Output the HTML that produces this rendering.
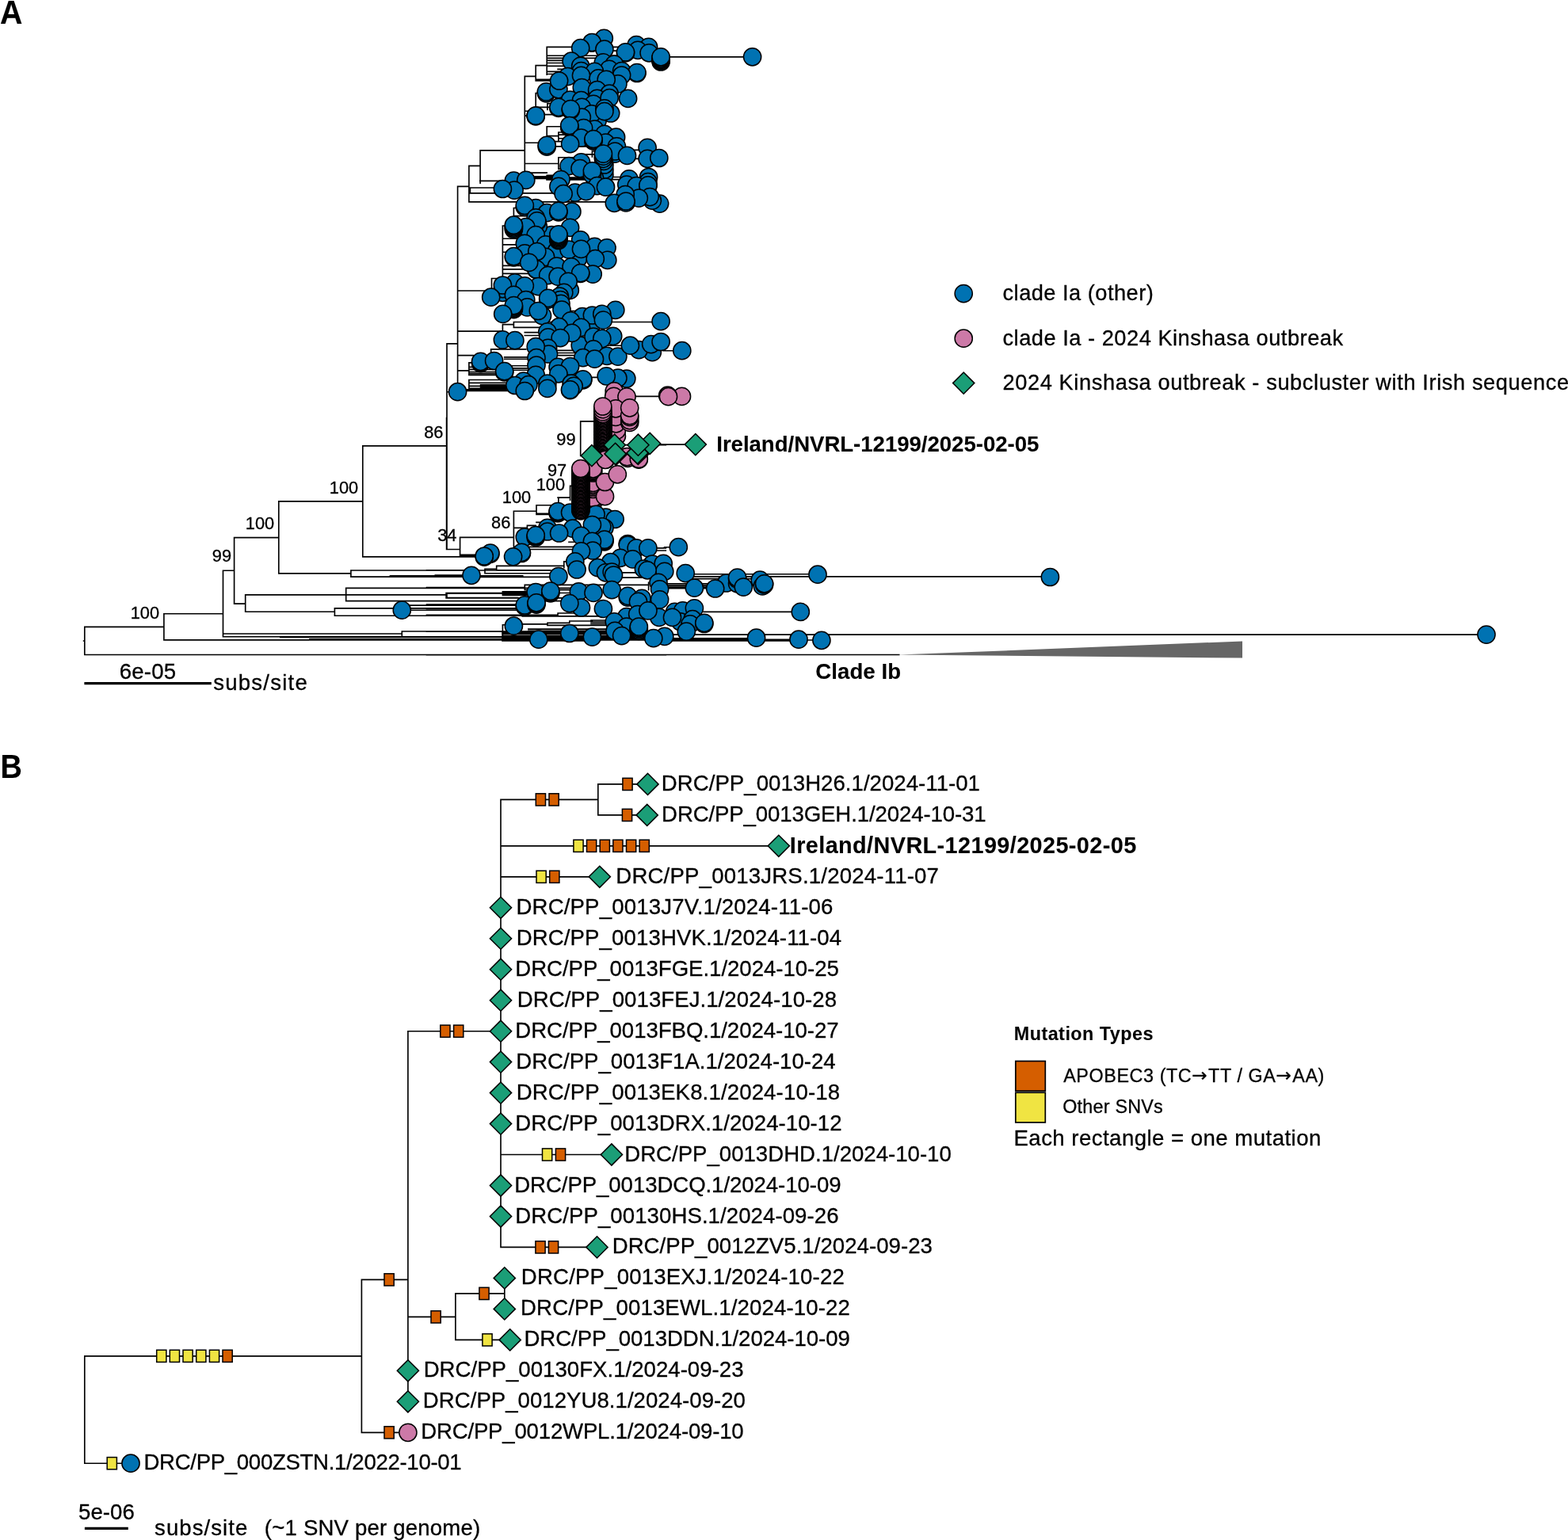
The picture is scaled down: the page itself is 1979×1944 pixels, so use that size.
<!DOCTYPE html>
<html lang="en"><head><meta charset="utf-8"><title>Phylogenetic tree</title>
<style>html,body{margin:0;padding:0;background:#fff}body{width:1979px;height:1944px;overflow:hidden}svg{display:block}text{white-space:pre}</style>
</head><body>
<svg width="1979" height="1944" viewBox="0 0 1979 1944">
<rect width="1979" height="1944" fill="#fff"/>
<g id="treeA">
<path d="M106.8 791.3V826.5M106.8 826.5H1134.7M106.8 791.3H206.9M206.9 774.7V807.9M206.9 774.7H281.5M206.9 807.9H833M390.9 806.9H833M281.5 720.2V803.7M281.5 720.2H295.6M281.5 800H507.3M281.5 803.7H684.4M507.3 797V802.4M507.3 797H684.4M353.8 804.4H684.4M295.6 678.6V762.1M295.6 678.6H351.8M295.6 762.1H309.7M309.7 750.9V772.2M309.7 750.9H563.1M309.7 772.2H422.4M436.7 742.3V758.6M436.7 742.3H734M436.7 758.6H734M563.1 748.5V754.9M563.1 748.5H734M563.1 754.9H734M422.4 767.8V777.2M422.4 767.8H684.4M422.4 777.2H684.4M516 764.1H684.4M516 770.2H684.4M351.8 632.8V723.9M351.8 632.8H457.8M351.8 723.9H442.9M442.9 720V728.1M442.9 720H659.7M442.9 728.1H659.7M492.5 726.9H659.7M548.2 727.4H659.7M457.8 562.9V702.9M457.8 562.9H563.6M457.8 702.9H570.5M563.6 527.5V693.5M563.6 693.5H570.5M605.8 228.3H634.2M591.9 209.3V231.2M591.9 209.3H606.1M606.1 189.8V231.2M606.1 189.8H662.3M662.3 96.3V218.1M662.3 96.3H676.2M676.2 82.6V102M676.2 82.6H690.2M690.2 59.4V94.2M690.2 59.4H733.5M690.2 70.2H721.1M690.2 73.3H756.7M690.2 76.4H721.1M690.2 79.5H733.5M690.2 83.4H733.5M704.1 87.3H733.5M690.2 90.4H716.5M690.2 93.5H716.5M676.2 102H705.6M676.2 100.4H694.8M662.3 140.2H676.2M676.2 117.5V135.3M676.2 117.5H689.4M676.2 135.3H704.9M690.9 130.6V138.4M690.9 130.6H704.9M662.3 146.1H676.2M687.1 144.6H710.3M662.3 180.2H690.2M690.2 159.7V171.6M690.2 159.7H718.8M690.2 171.6H704.1M704.9 167V178.6M704.9 167H718.8M704.9 170.1H718.8M704.9 174.7H733.5M701 178.6H719.6M701 184.8H749M662.3 206.5H704.9M704.9 198.7V213.4M704.9 198.7H733.5M704.9 213.4H718M662.3 218.1H690.2M673.1 222.7H708M690.2 224.3H708M690.2 221.2H708M732 194.9H761.4M747.4 191V198M747.4 191H776.1M733.5 70.2H789.5M762.9 59.4H803.2M772.2 64.1H789.5M791.5 189.4H817.1M791.5 200.3H817.1M764.5 223.5H793.9M764.5 226.6H818.6M577.6 235.4V431.2M577.6 235.4H591.9M591.9 228.5V254.8M591.9 254.8H764.5M593.4 243.9H701M593.4 237H623.6M593.4 237V243.9M577.6 367H620.5M620.5 351.5V363.1M620.5 351.5H648.4M634.4 285V350.7M634.4 285H648.4M634.4 301.2H662.3M634.4 308.9H662.3M634.4 318.2H648.4M634.4 335.3H666.9M634.4 339.9H666.9M634.4 345.3H666.9M648.4 262.5V273.3M648.4 262.5H662.3M648.4 272.6H676.2M577.6 418.1H634.4M634.4 409.6V431.2M634.4 409.6H648.4M648.4 406.5V413.4M648.4 406.5H834.1M648.4 413.4H705.6M662.3 419.6H690.9M662.3 423.5H690.9M721.1 329.1H751.3M709 392.5H776.8M564 433.9V631.2M564 433.9H577.6M577.6 428.5V482.6M577.6 448.6H597.3M577.6 467.9H591.9M591.9 457.9V473.3M591.9 457.9H606.6M591.9 463.3H626.7M591.9 466.4H626.7M591.9 469.5H626.7M591.9 471.5H626.7M591.9 473.3H626.7M619.7 440.8H663.8M619.7 440.8V448.6M636.7 450.9H666.9M636.7 453.2H666.9M591.9 479.5V493.5M591.9 479.5H639.1M591.9 483.4H639.1M606.6 485.7H639.1M591.9 487.3H639.1M606.6 488.8H639.1M591.9 490.4H639.1M588 491.9H639.1M588 493.5H651.5M564 494.7H577.6M538.5 562.8H564M732.7 531.9V575.5M732.7 531.9H749.8M801.6 500.4H840.3M786.1 561.6H840.3M719.6 613.4V631.2M719.6 613.4H722.7M704.1 628.1H719.6M735.8 476.4H765.2M639.1 467.2H676.2M639.1 464.8H676.2M639.1 461.7H676.2M694.8 445.5H735.8M694.8 448.6H735.8M694.8 442.4H741.2M739.7 436.2H787.7M564 628.5V693.5M564 693.5H580.6M580.6 678.3V702.9M580.6 678.3H648.4M580.6 700.4H611.2M580.6 701.5H611.2M648.4 645.2V690.4M648.4 645.2H677M677 637.7V649.3M677 637.7H704.1M677 649.3H704.1M677 648.3H704.1M704.9 628.5V637.7M648.4 666.4H665.4M665.4 663.3V668.7M665.4 663.3H676.2M665.4 668.7H690.9M677 659.4H691.7M648.4 690.4H733.5M668.5 693.5H733.5M718 684.2H733.5M538.5 702.9H611.2M626.7 714.4H711.8M626.7 714.4V719.8M626.7 719.8H694.8M612 718.2H626.7M612 718.2V723.7M612 723.7H694.8M538.5 719.8H595M549.3 726H595M538.5 727.2H595M606.6 728.3H694.8M711.8 708.9V716.7M711.8 708.9H725.8M538.5 741.5H662.3M662.3 738.4V744.6M662.3 738.4H818.6M662.3 744.6H730.4M564 749.2H634.4M564 749.2V754.6M564 754.6H653M634.4 746.9H666.9M634.4 748.4H666.9M634.4 750H666.9M634.4 751.5H666.9M538.5 758.5H653M538.5 763.1H653M538.5 768.5H653M538.5 776.3H704.1M704.1 774V776.3M704.1 774H733.5M659.2 777.8H761.4M538.5 797.2H634.4M634.4 788.7V806.5M634.4 788.7H639.1M659.2 787.9H690.9M690.9 786.3V789.4M690.9 786.3H718.8M718.8 784V786.3M718.8 784H747.4M690.9 789.4H764.5M666.9 794.1H764.5M666.9 796.4H764.5M634.4 798.7H718.8M634 802.6H834.1M634 804.1H834.1M634 805.7H834.1M634 807.2H834.1M634 808.8H747.4M538.5 826.6H840.3M817.9 691.9H840.3M776.8 695H840.3M786.1 722.9H840.3M786.1 729.1H840.3M818.6 735.3V744.6M835.4 71.8H949.6M837.3 442.7H860.8M801.7 500.4H843.5M820.2 561.1H877.8M838.5 690.7H856.3M875.6 724.7H1032M875.6 727.8H1326.1M875.6 730.6H959.2M838.5 736.8H917.4M838.5 739.1H902.7M838.5 741.1H902.7M838.5 742.7H902.7M888 772.4H1010.3M838.5 801.1H1864.8M838.5 805.7H954.6M838.5 807.2H1008M838.5 808.8H1008M1008 808H1036.9M830 801.1H1876M105.6 809H106.8M674 224H738M674 225.5H738M690 227H738M634 797.5H800M634 799H800M634 800.5H800M746 783H772M746 785H772M746 787H772M746 789H772" fill="none" stroke="#000" stroke-width="1.65" stroke-linecap="square"/>
<path d="M1134 826.6L1568 809.4V830.6Z" fill="#666"/>
<g fill="#0072B2" stroke="#000" stroke-width="1.5"><circle cx="507.3" cy="770.2" r="11.1"/><circle cx="733.5" cy="121.3" r="11.1"/><circle cx="696.1" cy="296.7" r="11.1"/><circle cx="729.6" cy="326.4" r="11.1"/><circle cx="684.5" cy="398.6" r="11.1"/><circle cx="719.3" cy="366.4" r="11.1"/><circle cx="746.4" cy="410.2" r="11.1"/><circle cx="732.2" cy="436" r="11.1"/><circle cx="754.1" cy="152.2" r="11.1"/><circle cx="762.3" cy="48.3" r="11.1"/><circle cx="747.1" cy="54.1" r="11.1"/><circle cx="747.1" cy="53.5" r="11.1"/><circle cx="732.7" cy="60.7" r="11.1"/><circle cx="762.9" cy="62.2" r="11.1"/><circle cx="803.2" cy="56.6" r="11.1"/><circle cx="818.6" cy="59.4" r="11.1"/><circle cx="805" cy="63.3" r="11.1"/><circle cx="789.5" cy="66.9" r="11.1"/><circle cx="789.5" cy="65.9" r="11.1"/><circle cx="819.1" cy="66.8" r="11.1"/><circle cx="834.1" cy="78" r="11.1"/><circle cx="834.1" cy="76.7" r="11.1"/><circle cx="834.1" cy="75.5" r="11.1"/><circle cx="834.1" cy="74.3" r="11.1"/><circle cx="834.1" cy="73" r="11.1"/><circle cx="834.1" cy="71.8" r="11.1"/><circle cx="721.1" cy="77.2" r="11.1"/><circle cx="761.4" cy="78.8" r="11.1"/><circle cx="732.7" cy="83.4" r="11.1"/><circle cx="775.3" cy="81.1" r="11.1"/><circle cx="768.8" cy="87.3" r="11.1"/><circle cx="733.5" cy="89.6" r="11.1"/><circle cx="750.5" cy="90.4" r="11.1"/><circle cx="784.6" cy="89.6" r="11.1"/><circle cx="803.9" cy="92.5" r="11.1"/><circle cx="803.9" cy="91.6" r="11.1"/><circle cx="716.5" cy="96.6" r="11.1"/><circle cx="733.5" cy="95.3" r="11.1"/><circle cx="784.6" cy="95" r="11.1"/><circle cx="755.2" cy="98.9" r="11.1"/><circle cx="779.9" cy="105.9" r="11.1"/><circle cx="765.2" cy="100.4" r="11.1"/><circle cx="689.4" cy="117.8" r="11.1"/><circle cx="689.4" cy="115.9" r="11.1"/><circle cx="704.9" cy="112.8" r="11.1"/><circle cx="705.6" cy="102" r="11.1"/><circle cx="734.3" cy="110.5" r="11.1"/><circle cx="753.6" cy="113.6" r="11.1"/><circle cx="769.1" cy="118.2" r="11.1"/><circle cx="792.6" cy="124.4" r="11.1"/><circle cx="719.6" cy="126" r="11.1"/><circle cx="733.5" cy="126.7" r="11.1"/><circle cx="753.6" cy="124.4" r="11.1"/><circle cx="749" cy="131.4" r="11.1"/><circle cx="769.1" cy="123.7" r="11.1"/><circle cx="704.9" cy="136.4" r="11.1"/><circle cx="704.9" cy="135.3" r="11.1"/><circle cx="734.3" cy="135.3" r="11.1"/><circle cx="746.7" cy="143.8" r="11.1"/><circle cx="770.7" cy="143" r="11.1"/><circle cx="762.9" cy="136.8" r="11.1"/><circle cx="762.9" cy="140.7" r="11.1"/><circle cx="676.2" cy="146.9" r="11.1"/><circle cx="676.2" cy="146.1" r="11.1"/><circle cx="676.2" cy="146.1" r="11.1"/><circle cx="734.3" cy="148" r="11.1"/><circle cx="720.3" cy="139.1" r="11.1"/><circle cx="720.3" cy="137.6" r="11.1"/><circle cx="750.5" cy="163.1" r="11.1"/><circle cx="762.9" cy="169.3" r="11.1"/><circle cx="736.6" cy="161.6" r="11.1"/><circle cx="777.6" cy="173.2" r="11.1"/><circle cx="718.8" cy="161.2" r="11.1"/><circle cx="718.8" cy="159.8" r="11.1"/><circle cx="718.8" cy="158.5" r="11.1"/><circle cx="733.5" cy="174" r="11.1"/><circle cx="719.6" cy="181.7" r="11.1"/><circle cx="690.2" cy="185.2" r="11.1"/><circle cx="690.2" cy="183.3" r="11.1"/><circle cx="764.5" cy="180.2" r="11.1"/><circle cx="778.4" cy="184.8" r="11.1"/><circle cx="749" cy="178.2" r="11.1"/><circle cx="749" cy="176.9" r="11.1"/><circle cx="749" cy="175.5" r="11.1"/><circle cx="776.1" cy="194.1" r="11.1"/><circle cx="776.1" cy="191" r="11.1"/><circle cx="817.1" cy="186.3" r="11.1"/><circle cx="791.5" cy="196.4" r="11.1"/><circle cx="817.1" cy="200.3" r="11.1"/><circle cx="831.8" cy="199.5" r="11.1"/><circle cx="762.9" cy="220.4" r="11.1"/><circle cx="762.9" cy="214.2" r="11.1"/><circle cx="762.9" cy="208" r="11.1"/><circle cx="762.1" cy="203.4" r="11.1"/><circle cx="761.4" cy="200.3" r="11.1"/><circle cx="761.4" cy="197.2" r="11.1"/><circle cx="761.4" cy="194.1" r="11.1"/><circle cx="733.5" cy="204.9" r="11.1"/><circle cx="718" cy="209.6" r="11.1"/><circle cx="732" cy="212.7" r="11.1"/><circle cx="750.5" cy="225" r="11.1"/><circle cx="747.4" cy="220.4" r="11.1"/><circle cx="747.4" cy="215.8" r="11.1"/><circle cx="648.4" cy="228.1" r="11.1"/><circle cx="663.8" cy="227.4" r="11.1"/><circle cx="708" cy="226.6" r="11.1"/><circle cx="793.9" cy="225.8" r="11.1"/><circle cx="818.6" cy="223.5" r="11.1"/><circle cx="817.9" cy="229.7" r="11.1"/><circle cx="649.1" cy="240.1" r="11.1"/><circle cx="634.4" cy="238.5" r="11.1"/><circle cx="704.9" cy="235.4" r="11.1"/><circle cx="725.8" cy="243.2" r="11.1"/><circle cx="711.1" cy="244.7" r="11.1"/><circle cx="753.6" cy="234.6" r="11.1"/><circle cx="764.5" cy="236.2" r="11.1"/><circle cx="739.7" cy="241.6" r="11.1"/><circle cx="790.8" cy="233.1" r="11.1"/><circle cx="803.2" cy="234.6" r="11.1"/><circle cx="817.9" cy="234.6" r="11.1"/><circle cx="817.9" cy="233.9" r="11.1"/><circle cx="832.6" cy="257.1" r="11.1"/><circle cx="823.3" cy="253.2" r="11.1"/><circle cx="820.2" cy="248.6" r="11.1"/><circle cx="806.3" cy="250.1" r="11.1"/><circle cx="789.2" cy="245.5" r="11.1"/><circle cx="775.3" cy="256.3" r="11.1"/><circle cx="790" cy="255.9" r="11.1"/><circle cx="790" cy="254" r="11.1"/><circle cx="676.2" cy="262.5" r="11.1"/><circle cx="662.3" cy="261.3" r="11.1"/><circle cx="662.3" cy="259.4" r="11.1"/><circle cx="690.2" cy="268.7" r="11.1"/><circle cx="721.9" cy="267.2" r="11.1"/><circle cx="704.9" cy="267.9" r="11.1"/><circle cx="704.9" cy="266.4" r="11.1"/><circle cx="679.3" cy="285.7" r="11.1"/><circle cx="676.2" cy="274.9" r="11.1"/><circle cx="677.8" cy="279.9" r="11.1"/><circle cx="677.8" cy="278.8" r="11.1"/><circle cx="663.8" cy="286.5" r="11.1"/><circle cx="648.4" cy="289.6" r="11.1"/><circle cx="648.4" cy="288.2" r="11.1"/><circle cx="648.4" cy="286.9" r="11.1"/><circle cx="648.4" cy="285.5" r="11.1"/><circle cx="648.4" cy="284.2" r="11.1"/><circle cx="719.6" cy="287.3" r="11.1"/><circle cx="676.2" cy="296.6" r="11.1"/><circle cx="688.6" cy="308.9" r="11.1"/><circle cx="662.3" cy="307.4" r="11.1"/><circle cx="732.7" cy="302.8" r="11.1"/><circle cx="750.5" cy="311.3" r="11.1"/><circle cx="766" cy="312.8" r="11.1"/><circle cx="702.5" cy="316.7" r="11.1"/><circle cx="718" cy="315.1" r="11.1"/><circle cx="733.5" cy="314.4" r="11.1"/><circle cx="704.9" cy="303.5" r="11.1"/><circle cx="704.9" cy="302.2" r="11.1"/><circle cx="704.9" cy="300.9" r="11.1"/><circle cx="704.9" cy="299.7" r="11.1"/><circle cx="704.9" cy="298.4" r="11.1"/><circle cx="704.9" cy="297.1" r="11.1"/><circle cx="704.9" cy="295.8" r="11.1"/><circle cx="662.3" cy="319.8" r="11.1"/><circle cx="688.6" cy="324.4" r="11.1"/><circle cx="677.8" cy="317.5" r="11.1"/><circle cx="648.4" cy="324.8" r="11.1"/><circle cx="648.4" cy="323.7" r="11.1"/><circle cx="766.8" cy="328.3" r="11.1"/><circle cx="751.3" cy="326.7" r="11.1"/><circle cx="677" cy="340.7" r="11.1"/><circle cx="677" cy="339.9" r="11.1"/><circle cx="667.7" cy="331.4" r="11.1"/><circle cx="702.5" cy="336" r="11.1"/><circle cx="721.1" cy="336.8" r="11.1"/><circle cx="748.2" cy="346.1" r="11.1"/><circle cx="732.7" cy="345.3" r="11.1"/><circle cx="732.7" cy="344.6" r="11.1"/><circle cx="691.7" cy="347.6" r="11.1"/><circle cx="704.1" cy="349.2" r="11.1"/><circle cx="717.2" cy="355.4" r="11.1"/><circle cx="649.9" cy="356.9" r="11.1"/><circle cx="679.3" cy="361.6" r="11.1"/><circle cx="662.3" cy="360.8" r="11.1"/><circle cx="634.4" cy="369.3" r="11.1"/><circle cx="634.4" cy="364.7" r="11.1"/><circle cx="634.4" cy="360" r="11.1"/><circle cx="711.8" cy="369.3" r="11.1"/><circle cx="648.4" cy="372.4" r="11.1"/><circle cx="663.8" cy="378.6" r="11.1"/><circle cx="619.7" cy="375.2" r="11.1"/><circle cx="706.4" cy="374" r="11.1"/><circle cx="707.2" cy="378.6" r="11.1"/><circle cx="708" cy="383.3" r="11.1"/><circle cx="691.7" cy="378.2" r="11.1"/><circle cx="691.7" cy="376.3" r="11.1"/><circle cx="665.4" cy="387.9" r="11.1"/><circle cx="679.3" cy="392.5" r="11.1"/><circle cx="648.4" cy="390.6" r="11.1"/><circle cx="648.4" cy="389.3" r="11.1"/><circle cx="648.4" cy="388.1" r="11.1"/><circle cx="648.4" cy="386.8" r="11.1"/><circle cx="648.4" cy="385.6" r="11.1"/><circle cx="709" cy="391" r="11.1"/><circle cx="634.7" cy="396.4" r="11.1"/><circle cx="776.8" cy="391.3" r="11.1"/><circle cx="735" cy="399.5" r="11.1"/><circle cx="747.4" cy="398" r="11.1"/><circle cx="759.8" cy="396.4" r="11.1"/><circle cx="761.4" cy="404.1" r="11.1"/><circle cx="720.3" cy="404.9" r="11.1"/><circle cx="705.6" cy="412.7" r="11.1"/><circle cx="733.5" cy="413.4" r="11.1"/><circle cx="690.9" cy="418.9" r="11.1"/><circle cx="721.9" cy="420.4" r="11.1"/><circle cx="834.1" cy="405.7" r="11.1"/><circle cx="634.4" cy="428.9" r="11.1"/><circle cx="649.9" cy="429.7" r="11.1"/><circle cx="691.7" cy="425.8" r="11.1"/><circle cx="707.2" cy="426.6" r="11.1"/><circle cx="749" cy="425" r="11.1"/><circle cx="773.7" cy="424.3" r="11.1"/><circle cx="759.8" cy="427.4" r="11.1"/><circle cx="691.7" cy="439.3" r="11.1"/><circle cx="692.5" cy="447" r="11.1"/><circle cx="676.2" cy="437.7" r="11.1"/><circle cx="677" cy="451.7" r="11.1"/><circle cx="677" cy="461" r="11.1"/><circle cx="676.2" cy="473.3" r="11.1"/><circle cx="749" cy="440.8" r="11.1"/><circle cx="735.8" cy="451.7" r="11.1"/><circle cx="766" cy="449.3" r="11.1"/><circle cx="779.9" cy="450.1" r="11.1"/><circle cx="750.5" cy="453.2" r="11.1"/><circle cx="823.3" cy="444.7" r="11.1"/><circle cx="806.3" cy="441.6" r="11.1"/><circle cx="821.7" cy="434.6" r="11.1"/><circle cx="795.4" cy="436.2" r="11.1"/><circle cx="834.1" cy="431.5" r="11.1"/><circle cx="606.6" cy="458.6" r="11.1"/><circle cx="606.6" cy="457.5" r="11.1"/><circle cx="606.6" cy="456.3" r="11.1"/><circle cx="623.6" cy="455.5" r="11.1"/><circle cx="636.7" cy="469.9" r="11.1"/><circle cx="636.7" cy="468.7" r="11.1"/><circle cx="704.1" cy="463.3" r="11.1"/><circle cx="719.6" cy="462.5" r="11.1"/><circle cx="704.9" cy="471.8" r="11.1"/><circle cx="735.8" cy="479.9" r="11.1"/><circle cx="735.8" cy="478.8" r="11.1"/><circle cx="790.8" cy="478" r="11.1"/><circle cx="779.9" cy="477.2" r="11.1"/><circle cx="765.2" cy="474.9" r="11.1"/><circle cx="660.7" cy="481.1" r="11.1"/><circle cx="649.9" cy="486.5" r="11.1"/><circle cx="666.9" cy="485.7" r="11.1"/><circle cx="662.3" cy="493.5" r="11.1"/><circle cx="690.9" cy="484.2" r="11.1"/><circle cx="690.9" cy="490.4" r="11.1"/><circle cx="721.1" cy="484.2" r="11.1"/><circle cx="724.2" cy="487.3" r="11.1"/><circle cx="719.6" cy="492.7" r="11.1"/><circle cx="719.6" cy="491.9" r="11.1"/><circle cx="577.6" cy="494.7" r="11.1"/></g>
<g fill="#CC79A7" stroke="#000" stroke-width="1.5"><circle cx="764.5" cy="580.2" r="11.1"/><circle cx="792.3" cy="578.4" r="11.1"/><circle cx="806.2" cy="580.2" r="11.1"/><circle cx="748.5" cy="634.8" r="11.1"/><circle cx="748.5" cy="631.1" r="11.1"/><circle cx="748.5" cy="628.6" r="11.1"/><circle cx="748.5" cy="617.5" r="11.1"/><circle cx="748.5" cy="615" r="11.1"/><circle cx="748.5" cy="613.1" r="11.1"/><circle cx="748.5" cy="611.3" r="11.1"/><circle cx="748.5" cy="609.4" r="11.1"/><circle cx="748.5" cy="597" r="11.1"/><circle cx="748.5" cy="595.7" r="11.1"/><circle cx="748.5" cy="594.4" r="11.1"/><circle cx="748.5" cy="593.1" r="11.1"/><circle cx="748.5" cy="591.8" r="11.1"/><circle cx="763.5" cy="626.7" r="11.1"/><circle cx="763.5" cy="608.5" r="11.1"/><circle cx="779.3" cy="598.8" r="11.1"/></g>
<g fill="#0072B2" stroke="#000" stroke-width="1.5"><circle cx="704.1" cy="647.8" r="11.1"/><circle cx="704.1" cy="646.6" r="11.1"/><circle cx="704.1" cy="645.5" r="11.1"/><circle cx="719.6" cy="647" r="11.1"/><circle cx="764.5" cy="653.2" r="11.1"/><circle cx="776.1" cy="655.5" r="11.1"/><circle cx="752.1" cy="649.3" r="11.1"/><circle cx="762.9" cy="666.4" r="11.1"/><circle cx="759.8" cy="664.8" r="11.1"/><circle cx="747.4" cy="662.5" r="11.1"/><circle cx="690.9" cy="666.4" r="11.1"/><circle cx="690.9" cy="671" r="11.1"/><circle cx="722.7" cy="667.2" r="11.1"/><circle cx="705.6" cy="673" r="11.1"/><circle cx="662.3" cy="678" r="11.1"/><circle cx="676.2" cy="678.4" r="11.1"/><circle cx="676.2" cy="677" r="11.1"/><circle cx="676.2" cy="675.7" r="11.1"/><circle cx="733.5" cy="676.4" r="11.1"/><circle cx="762.9" cy="683.8" r="11.1"/><circle cx="762.9" cy="682.4" r="11.1"/><circle cx="762.9" cy="681.1" r="11.1"/><circle cx="747.4" cy="683.4" r="11.1"/><circle cx="748.2" cy="695" r="11.1"/><circle cx="733.5" cy="695.8" r="11.1"/><circle cx="618.9" cy="699.3" r="11.1"/><circle cx="618.9" cy="698.1" r="11.1"/><circle cx="611.2" cy="703.1" r="11.1"/><circle cx="611.2" cy="702" r="11.1"/><circle cx="658.4" cy="698.5" r="11.1"/><circle cx="658.4" cy="697.3" r="11.1"/><circle cx="647.6" cy="702.8" r="11.1"/><circle cx="792.3" cy="686.5" r="11.1"/><circle cx="792.3" cy="688" r="11.1"/><circle cx="803.2" cy="691.9" r="11.1"/><circle cx="817.9" cy="691.9" r="11.1"/><circle cx="725.8" cy="708.9" r="11.1"/><circle cx="728.1" cy="719" r="11.1"/><circle cx="783" cy="704.3" r="11.1"/><circle cx="798.5" cy="705.9" r="11.1"/><circle cx="770.7" cy="709.7" r="11.1"/><circle cx="754.4" cy="716.7" r="11.1"/><circle cx="764.5" cy="722.9" r="11.1"/><circle cx="772.2" cy="722.1" r="11.1"/><circle cx="774.5" cy="726" r="11.1"/><circle cx="823.3" cy="712" r="11.1"/><circle cx="812.4" cy="718.2" r="11.1"/><circle cx="837.2" cy="711.3" r="11.1"/><circle cx="838.8" cy="721.3" r="11.1"/><circle cx="817.1" cy="719.8" r="11.1"/><circle cx="595" cy="726.3" r="11.1"/><circle cx="704.9" cy="727.5" r="11.1"/><circle cx="676.2" cy="747.6" r="11.1"/><circle cx="694.8" cy="748.8" r="11.1"/><circle cx="694.8" cy="747.5" r="11.1"/><circle cx="694.8" cy="746.1" r="11.1"/><circle cx="730.4" cy="746.9" r="11.1"/><circle cx="749" cy="748.4" r="11.1"/><circle cx="772.2" cy="744.6" r="11.1"/><circle cx="662.3" cy="765.4" r="11.1"/><circle cx="662.3" cy="763.9" r="11.1"/><circle cx="677" cy="763.1" r="11.1"/><circle cx="677" cy="762" r="11.1"/><circle cx="677" cy="760.8" r="11.1"/><circle cx="733.5" cy="767" r="11.1"/><circle cx="718.8" cy="761.6" r="11.1"/><circle cx="761.4" cy="768.5" r="11.1"/><circle cx="792.3" cy="754.2" r="11.1"/><circle cx="792.3" cy="752.3" r="11.1"/><circle cx="810.1" cy="755.4" r="11.1"/><circle cx="805.5" cy="759.3" r="11.1"/><circle cx="831" cy="735.3" r="11.1"/><circle cx="832.6" cy="743.8" r="11.1"/><circle cx="832.6" cy="756.9" r="11.1"/><circle cx="790.8" cy="778.6" r="11.1"/><circle cx="804.7" cy="775.5" r="11.1"/><circle cx="831.8" cy="779.4" r="11.1"/><circle cx="817.9" cy="770.9" r="11.1"/><circle cx="775.3" cy="784.8" r="11.1"/><circle cx="790.8" cy="791" r="11.1"/><circle cx="776.1" cy="796.4" r="11.1"/><circle cx="806.3" cy="796.4" r="11.1"/><circle cx="806.3" cy="795.1" r="11.1"/><circle cx="806.3" cy="793.7" r="11.1"/><circle cx="806.3" cy="792.3" r="11.1"/><circle cx="806.3" cy="791" r="11.1"/><circle cx="784.6" cy="802.6" r="11.1"/><circle cx="648.4" cy="790.2" r="11.1"/><circle cx="718.8" cy="799.5" r="11.1"/><circle cx="747.4" cy="804.1" r="11.1"/><circle cx="679.8" cy="807.2" r="11.1"/><circle cx="838.8" cy="803.4" r="11.1"/><circle cx="824.8" cy="805.7" r="11.1"/></g>
<g fill="#CC79A7" stroke="#000" stroke-width="1.5"><circle cx="732.9" cy="644.8" r="11.1"/><circle cx="732.9" cy="643.5" r="11.1"/><circle cx="732.9" cy="642.2" r="11.1"/><circle cx="732.9" cy="640.9" r="11.1"/><circle cx="732.9" cy="639.6" r="11.1"/><circle cx="732.9" cy="638.3" r="11.1"/><circle cx="732.9" cy="637" r="11.1"/><circle cx="732.9" cy="635.7" r="11.1"/><circle cx="732.9" cy="634.4" r="11.1"/><circle cx="732.9" cy="633.1" r="11.1"/><circle cx="732.9" cy="631.8" r="11.1"/><circle cx="732.9" cy="630.5" r="11.1"/><circle cx="732.9" cy="629.2" r="11.1"/><circle cx="732.9" cy="627.9" r="11.1"/><circle cx="732.9" cy="626.6" r="11.1"/><circle cx="732.9" cy="625.3" r="11.1"/><circle cx="732.9" cy="624" r="11.1"/><circle cx="732.9" cy="622.7" r="11.1"/><circle cx="732.9" cy="621.4" r="11.1"/><circle cx="732.9" cy="620.1" r="11.1"/><circle cx="732.9" cy="618.8" r="11.1"/><circle cx="732.9" cy="617.5" r="11.1"/><circle cx="732.9" cy="616.2" r="11.1"/><circle cx="732.9" cy="614.9" r="11.1"/><circle cx="732.9" cy="613.6" r="11.1"/><circle cx="732.9" cy="612.3" r="11.1"/><circle cx="732.9" cy="611" r="11.1"/><circle cx="732.9" cy="609.7" r="11.1"/><circle cx="732.9" cy="608.4" r="11.1"/><circle cx="732.9" cy="607.1" r="11.1"/><circle cx="732.9" cy="605.8" r="11.1"/><circle cx="732.9" cy="604.5" r="11.1"/><circle cx="732.9" cy="603.2" r="11.1"/><circle cx="732.9" cy="601.9" r="11.1"/><circle cx="732.9" cy="600.6" r="11.1"/><circle cx="732.9" cy="599.3" r="11.1"/><circle cx="732.9" cy="598" r="11.1"/><circle cx="732.9" cy="596.7" r="11.1"/><circle cx="732.9" cy="595.4" r="11.1"/><circle cx="732.9" cy="594.1" r="11.1"/><circle cx="732.9" cy="592.8" r="11.1"/><circle cx="732.9" cy="591.5" r="11.1"/><circle cx="775.2" cy="493.9" r="11.1"/><circle cx="774.7" cy="500.4" r="11.1"/><circle cx="791" cy="500.9" r="11.1"/><circle cx="778.4" cy="550.6" r="11.1"/><circle cx="778.4" cy="543.2" r="11.1"/><circle cx="777.5" cy="534.8" r="11.1"/><circle cx="777.1" cy="526.4" r="11.1"/><circle cx="777.1" cy="515.8" r="11.1"/><circle cx="794.7" cy="533.4" r="11.1"/><circle cx="794.7" cy="530.6" r="11.1"/><circle cx="794.7" cy="526.4" r="11.1"/><circle cx="794.7" cy="524.6" r="11.1"/><circle cx="794.7" cy="514.8" r="11.1"/><circle cx="760.8" cy="568.2" r="11.1"/><circle cx="760.8" cy="566.9" r="11.1"/><circle cx="760.8" cy="565.6" r="11.1"/><circle cx="760.8" cy="564.3" r="11.1"/><circle cx="760.8" cy="563" r="11.1"/><circle cx="760.8" cy="561.7" r="11.1"/><circle cx="760.8" cy="560.4" r="11.1"/><circle cx="760.8" cy="559" r="11.1"/><circle cx="760.8" cy="557.7" r="11.1"/><circle cx="760.8" cy="556.4" r="11.1"/><circle cx="760.8" cy="555.1" r="11.1"/><circle cx="760.8" cy="553.8" r="11.1"/><circle cx="760.8" cy="552.5" r="11.1"/><circle cx="760.8" cy="551.2" r="11.1"/><circle cx="760.8" cy="549.8" r="11.1"/><circle cx="760.8" cy="548.5" r="11.1"/><circle cx="760.8" cy="547.2" r="11.1"/><circle cx="760.8" cy="545.9" r="11.1"/><circle cx="760.8" cy="544.6" r="11.1"/><circle cx="760.8" cy="543.3" r="11.1"/><circle cx="760.8" cy="542" r="11.1"/><circle cx="760.8" cy="540.6" r="11.1"/><circle cx="760.8" cy="539.3" r="11.1"/><circle cx="760.8" cy="538" r="11.1"/><circle cx="760.8" cy="536.7" r="11.1"/><circle cx="760.8" cy="535.4" r="11.1"/><circle cx="760.8" cy="534.1" r="11.1"/><circle cx="760.8" cy="532.8" r="11.1"/><circle cx="760.8" cy="531.5" r="11.1"/><circle cx="760.8" cy="530.1" r="11.1"/><circle cx="760.8" cy="528.8" r="11.1"/><circle cx="760.8" cy="527.5" r="11.1"/><circle cx="760.8" cy="526.2" r="11.1"/><circle cx="760.8" cy="524.9" r="11.1"/><circle cx="760.8" cy="523.6" r="11.1"/><circle cx="760.8" cy="522.3" r="11.1"/><circle cx="760.8" cy="519.9" r="11.1"/><circle cx="760.8" cy="516.7" r="11.1"/><circle cx="760.8" cy="513" r="11.1"/><circle cx="764.1" cy="580.3" r="11.1"/><circle cx="791.5" cy="576.6" r="11.1"/><circle cx="806.3" cy="579.4" r="11.1"/></g>
<g fill="#1B9E77" stroke="#000" stroke-width="1.5"><path d="M806.6 559.9L820.2 546.3L833.8 559.9L820.2 573.5Z"/><path d="M791.8 572.9L805.4 559.3L819 572.9L805.4 586.5Z"/><path d="M790.9 571.9L804.5 558.3L818.1 571.9L804.5 585.5Z"/><path d="M791.8 561.7L805.4 548.1L819 561.7L805.4 575.3Z"/><path d="M762.1 561.7L775.7 548.1L789.3 561.7L775.7 575.3Z"/><path d="M763.9 573.8L777.5 560.2L791.1 573.8L777.5 587.4Z"/><path d="M763 572.9L776.6 559.3L790.2 572.9L776.6 586.5Z"/><path d="M733.3 575.2L746.9 561.6L760.5 575.2L746.9 588.8Z"/></g>
<g fill="#0072B2" stroke="#000" stroke-width="1.5"><circle cx="949.6" cy="71.8" r="11.1"/><circle cx="860.8" cy="442.7" r="11.1"/></g>
<g fill="#CC79A7" stroke="#000" stroke-width="1.5"><circle cx="860.5" cy="500.4" r="11.1"/><circle cx="842.7" cy="499.2" r="11.1"/><circle cx="843.5" cy="500.7" r="11.1"/></g>
<g fill="#1B9E77" stroke="#000" stroke-width="1.5"><path d="M864.2 561.1L877.8 547.5L891.4 561.1L877.8 574.7Z"/></g>
<g fill="#0072B2" stroke="#000" stroke-width="1.5"><circle cx="856.3" cy="690.7" r="11.1"/><circle cx="865.2" cy="723.7" r="11.1"/><circle cx="876.4" cy="742.2" r="11.1"/><circle cx="916.6" cy="736" r="11.1"/><circle cx="902.7" cy="743" r="11.1"/><circle cx="930.6" cy="736.8" r="11.1"/><circle cx="930.6" cy="731" r="11.1"/><circle cx="930.6" cy="729.1" r="11.1"/><circle cx="938.3" cy="741.1" r="11.1"/><circle cx="959.2" cy="732.2" r="11.1"/><circle cx="962.3" cy="739.9" r="11.1"/><circle cx="964.6" cy="738" r="11.1"/><circle cx="964.6" cy="736.8" r="11.1"/><circle cx="1032" cy="725.2" r="11.1"/><circle cx="1010.3" cy="772.4" r="11.1"/><circle cx="851.6" cy="772.4" r="11.1"/><circle cx="861.7" cy="770.9" r="11.1"/><circle cx="876.4" cy="767.8" r="11.1"/><circle cx="858.6" cy="784.8" r="11.1"/><circle cx="848.5" cy="779.4" r="11.1"/><circle cx="874.1" cy="781.7" r="11.1"/><circle cx="871" cy="787.9" r="11.1"/><circle cx="888.8" cy="787.5" r="11.1"/><circle cx="888.8" cy="786.3" r="11.1"/><circle cx="866.3" cy="797.2" r="11.1"/><circle cx="954.6" cy="805.2" r="11.1"/><circle cx="1008" cy="807.2" r="11.1"/><circle cx="1036.9" cy="808.3" r="11.1"/><circle cx="1325.4" cy="728.5" r="11.1"/><circle cx="1876" cy="801.1" r="11.1"/></g>
</g>
<path d="M106.4 862.6H266.8" stroke="#000" stroke-width="3.3" fill="none"/>
<g stroke="#000" stroke-width="1.5">
<circle cx="1216.2" cy="370.6" r="11.1" fill="#0072B2"/>
<circle cx="1216.2" cy="427.2" r="11.1" fill="#CC79A7"/>
<g fill="#1B9E77"><path d="M1202.6 483.6L1216.2 470L1229.8 483.6L1216.2 497.2Z"/></g>
</g>
<g id="treeB">
<path d="M106.8 1711.8V1847.2M106.8 1711.8H456.4M106.8 1847.2H165M456.4 1615.4V1808.3M456.4 1808.3H514.9M456.4 1615.4H514.9M514.9 1301.7V1769.3M514.9 1301.7H632M514.9 1662.4H574.9M574.9 1632.9V1691.4M574.9 1632.9H636.8M636.8 1613.4V1652.4M574.9 1691.4H643.7M632 1009.4V1574.4M632 1009.4H754.8M754.8 989.9V1028.9M754.8 989.9H817.5M754.8 1028.9H816.7M632 1067.8H982.8M632 1106.8H756.8M632 1457.5H771.9M632 1574.4H753.5" fill="none" stroke="#000" stroke-width="1.65" stroke-linecap="square"/>
<g fill="#D55E00" stroke="#000" stroke-width="1.5"><rect x="281" y="1704.2" width="12.2" height="15.2"/><rect x="485" y="1800.7" width="12.2" height="15.2"/><rect x="485" y="1607.8" width="12.2" height="15.2"/><rect x="555.8" y="1294.1" width="12.2" height="15.2"/><rect x="572.6" y="1294.1" width="12.2" height="15.2"/><rect x="544" y="1654.8" width="12.2" height="15.2"/><rect x="604.9" y="1625.3" width="12.2" height="15.2"/><rect x="676.3" y="1001.8" width="12.2" height="15.2"/><rect x="693" y="1001.8" width="12.2" height="15.2"/><rect x="785.9" y="982.3" width="12.2" height="15.2"/><rect x="785.4" y="1021.3" width="12.2" height="15.2"/><rect x="740.5" y="1060.2" width="12.2" height="15.2"/><rect x="757.2" y="1060.2" width="12.2" height="15.2"/><rect x="773.8" y="1060.2" width="12.2" height="15.2"/><rect x="790.5" y="1060.2" width="12.2" height="15.2"/><rect x="807.1" y="1060.2" width="12.2" height="15.2"/><rect x="693.7" y="1099.2" width="12.2" height="15.2"/><rect x="701.4" y="1449.9" width="12.2" height="15.2"/><rect x="675.9" y="1566.8" width="12.2" height="15.2"/><rect x="692.4" y="1566.8" width="12.2" height="15.2"/></g>
<g fill="#F0E442" stroke="#000" stroke-width="1.5"><rect x="197.7" y="1704.2" width="12.2" height="15.2"/><rect x="214.3" y="1704.2" width="12.2" height="15.2"/><rect x="231" y="1704.2" width="12.2" height="15.2"/><rect x="247.7" y="1704.2" width="12.2" height="15.2"/><rect x="264.4" y="1704.2" width="12.2" height="15.2"/><rect x="135.2" y="1839.6" width="12.2" height="15.2"/><rect x="608.9" y="1683.8" width="12.2" height="15.2"/><rect x="723.9" y="1060.2" width="12.2" height="15.2"/><rect x="677" y="1099.2" width="12.2" height="15.2"/><rect x="684.5" y="1449.9" width="12.2" height="15.2"/></g>
<g fill="#1B9E77" stroke="#000" stroke-width="1.5"><path d="M803.9 989.9L817.5 976.3L831.1 989.9L817.5 1003.5Z"/><path d="M803.1 1028.9L816.7 1015.3L830.3 1028.9L816.7 1042.5Z"/><path d="M969.2 1067.8L982.8 1054.2L996.4 1067.8L982.8 1081.4Z"/><path d="M743.2 1106.8L756.8 1093.2L770.4 1106.8L756.8 1120.4Z"/><path d="M618.4 1145.8L632 1132.2L645.6 1145.8L632 1159.4Z"/><path d="M618.4 1184.8L632 1171.2L645.6 1184.8L632 1198.3Z"/><path d="M618.4 1223.7L632 1210.1L645.6 1223.7L632 1237.3Z"/><path d="M618.4 1262.7L632 1249.1L645.6 1262.7L632 1276.3Z"/><path d="M618.4 1301.7L632 1288.1L645.6 1301.7L632 1315.3Z"/><path d="M618.4 1340.6L632 1327L645.6 1340.6L632 1354.2Z"/><path d="M618.4 1379.6L632 1366L645.6 1379.6L632 1393.2Z"/><path d="M618.4 1418.6L632 1405L645.6 1418.6L632 1432.2Z"/><path d="M758.3 1457.5L771.9 1443.9L785.5 1457.5L771.9 1471.1Z"/><path d="M618.4 1496.5L632 1482.9L645.6 1496.5L632 1510.1Z"/><path d="M618.4 1535.5L632 1521.9L645.6 1535.5L632 1549.1Z"/><path d="M739.9 1574.4L753.5 1560.8L767.1 1574.4L753.5 1588Z"/><path d="M623.2 1613.4L636.8 1599.8L650.4 1613.4L636.8 1627Z"/><path d="M623.2 1652.4L636.8 1638.8L650.4 1652.4L636.8 1666Z"/><path d="M630.1 1691.4L643.7 1677.8L657.3 1691.4L643.7 1705Z"/><path d="M501.3 1730.3L514.9 1716.7L528.5 1730.3L514.9 1743.9Z"/><path d="M501.3 1769.3L514.9 1755.7L528.5 1769.3L514.9 1782.9Z"/></g>
<circle cx="514.9" cy="1808.3" r="11.1" fill="#CC79A7" stroke="#000" stroke-width="1.5"/>
<circle cx="165" cy="1847.2" r="11.1" fill="#0072B2" stroke="#000" stroke-width="1.5"/>
</g>
<path d="M106.9 1929.3H161.8" stroke="#000" stroke-width="3.3" fill="none"/>
<g stroke="#000" stroke-width="1.7"><rect x="1281.8" y="1339.5" width="37.5" height="37.6" fill="#D55E00"/><rect x="1281.8" y="1379.2" width="37.5" height="37.7" fill="#F0E442"/></g>
<g id="labels" fill="#000" stroke="#000" stroke-width="0.3" font-family="'Liberation Sans', Arial, Helvetica, sans-serif">
<text id="A" x="-0.06" y="29.6" font-size="43" font-weight="bold" stroke-width="0.1" textLength="28.4" lengthAdjust="spacingAndGlyphs">A</text>
<text id="B" x="0.53" y="981.6" font-size="41.7" font-weight="bold" stroke-width="0.1" textLength="27.4" lengthAdjust="spacingAndGlyphs">B</text>
<text id="sup0" x="164.67" y="780.7" font-size="21.8">100</text>
<text id="sup1" x="267.77" y="709.1" font-size="21.8">99</text>
<text id="sup2" x="309.77" y="668" font-size="21.8">100</text>
<text id="sup3" x="415.77" y="622.9" font-size="21.8">100</text>
<text id="sup4" x="535.22" y="553" font-size="21.8">86</text>
<text id="sup5" x="552.17" y="682.8" font-size="21.8">34</text>
<text id="sup6" x="620.12" y="667.2" font-size="21.8">86</text>
<text id="sup7" x="633.87" y="634.5" font-size="21.8">100</text>
<text id="sup8" x="676.67" y="618.8" font-size="21.8">100</text>
<text id="sup9" x="690.97" y="600.6" font-size="21.8">97</text>
<text id="sup10" x="702.27" y="562.4" font-size="21.8">99</text>
<text id="irA" x="904.27" y="569.6" font-size="27.6" font-weight="bold" stroke-width="0.1" textLength="407.10" lengthAdjust="spacing">Ireland/NVRL-12199/2025-02-05</text>
<text id="cladeIb" x="1029.27" y="856.7" font-size="27.6" font-weight="bold" stroke-width="0.1" textLength="107.84" lengthAdjust="spacing">Clade Ib</text>
<text id="sc6" x="150.87" y="856.6" font-size="27.6" textLength="71.18" lengthAdjust="spacing">6e-05</text>
<text id="subsA" x="269.27" y="871" font-size="27.6" textLength="118.51" lengthAdjust="spacing">subs/site</text>
<text id="leg1" x="1265.50" y="379" font-size="27.2" textLength="190.36" lengthAdjust="spacing">clade Ia (other)</text>
<text id="leg2" x="1265.50" y="435.8" font-size="27.2" textLength="429.53" lengthAdjust="spacing">clade Ia - 2024 Kinshasa outbreak</text>
<text id="leg3" x="1265.50" y="492.2" font-size="27.2" textLength="714.59" lengthAdjust="spacing">2024 Kinshasa outbreak - subcluster with Irish sequence</text>
<text id="mt" x="1279.77" y="1313.2" font-size="23.3" font-weight="bold" stroke-width="0.1" textLength="175.62" lengthAdjust="spacing">Mutation Types</text>
<text id="apo" x="1342.17" y="1365.8" font-size="23.3" textLength="329.17" lengthAdjust="spacing">APOBEC3 (TC<tspan font-family="'DejaVu Sans', sans-serif" dy="-1.2">→</tspan><tspan dy="1.2">​</tspan>TT / GA<tspan font-family="'DejaVu Sans', sans-serif" dy="-1.2">→</tspan><tspan dy="1.2">​</tspan>AA)</text>
<text id="osnv" x="1341.17" y="1404.9" font-size="23.3" textLength="126.50" lengthAdjust="spacing">Other SNVs</text>
<text id="each" x="1279.47" y="1446.1" font-size="27.6" textLength="387.86" lengthAdjust="spacing">Each rectangle = one mutation</text>
<text id="sc5" x="99.07" y="1918.3" font-size="27.6" textLength="70.68" lengthAdjust="spacing">5e-06</text>
<text id="subsB" x="195.07" y="1937.7" font-size="27.6" textLength="117.21" lengthAdjust="spacing">subs/site</text>
<text id="snv" x="333.87" y="1937.7" font-size="27.6" textLength="272.29" lengthAdjust="spacing">(~1 SNV per genome)</text>
<text id="tip0" x="834.87" y="997.9" font-size="27.6" textLength="402.09" lengthAdjust="spacing">DRC/PP_0013H26.1/2024-11-01</text>
<text id="tip1" x="835.07" y="1036.9" font-size="27.6" textLength="409.52" lengthAdjust="spacing">DRC/PP_0013GEH.1/2024-10-31</text>
<text id="tip2" x="996.78" y="1077.4" font-size="28.8" font-weight="bold" stroke-width="0.1" textLength="437.38" lengthAdjust="spacing">Ireland/NVRL-12199/2025-02-05</text>
<text id="tip3" x="777.27" y="1114.8" font-size="27.6" textLength="407.71" lengthAdjust="spacing">DRC/PP_0013JRS.1/2024-11-07</text>
<text id="tip4" x="651.47" y="1153.8" font-size="27.6" textLength="399.90" lengthAdjust="spacing">DRC/PP_0013J7V.1/2024-11-06</text>
<text id="tip5" x="651.67" y="1192.8" font-size="27.6" textLength="410.52" lengthAdjust="spacing">DRC/PP_0013HVK.1/2024-11-04</text>
<text id="tip6" x="650.27" y="1231.7" font-size="27.6" textLength="408.65" lengthAdjust="spacing">DRC/PP_0013FGE.1/2024-10-25</text>
<text id="tip7" x="652.67" y="1270.7" font-size="27.6" textLength="403.38" lengthAdjust="spacing">DRC/PP_0013FEJ.1/2024-10-28</text>
<text id="tip8" x="650.27" y="1309.7" font-size="27.6" textLength="408.35" lengthAdjust="spacing">DRC/PP_0013FBQ.1/2024-10-27</text>
<text id="tip9" x="651.27" y="1348.6" font-size="27.6" textLength="403.44" lengthAdjust="spacing">DRC/PP_0013F1A.1/2024-10-24</text>
<text id="tip10" x="651.67" y="1387.6" font-size="27.6" textLength="408.38" lengthAdjust="spacing">DRC/PP_0013EK8.1/2024-10-18</text>
<text id="tip11" x="650.27" y="1426.6" font-size="27.6" textLength="412.28" lengthAdjust="spacing">DRC/PP_0013DRX.1/2024-10-12</text>
<text id="tip12" x="788.27" y="1465.5" font-size="27.6" textLength="412.51" lengthAdjust="spacing">DRC/PP_0013DHD.1/2024-10-10</text>
<text id="tip13" x="649.27" y="1504.5" font-size="27.6" textLength="412.24" lengthAdjust="spacing">DRC/PP_0013DCQ.1/2024-10-09</text>
<text id="tip14" x="650.27" y="1543.5" font-size="27.6" textLength="408.30" lengthAdjust="spacing">DRC/PP_00130HS.1/2024-09-26</text>
<text id="tip15" x="772.67" y="1582.4" font-size="27.6" textLength="404.24" lengthAdjust="spacing">DRC/PP_0012ZV5.1/2024-09-23</text>
<text id="tip16" x="657.87" y="1621.4" font-size="27.6" textLength="407.94" lengthAdjust="spacing">DRC/PP_0013EXJ.1/2024-10-22</text>
<text id="tip17" x="657.07" y="1660.4" font-size="27.6" textLength="415.73" lengthAdjust="spacing">DRC/PP_0013EWL.1/2024-10-22</text>
<text id="tip18" x="661.47" y="1699.4" font-size="27.6" textLength="411.41" lengthAdjust="spacing">DRC/PP_0013DDN.1/2024-10-09</text>
<text id="tip19" x="534.67" y="1738.3" font-size="27.6" textLength="403.84" lengthAdjust="spacing">DRC/PP_00130FX.1/2024-09-23</text>
<text id="tip20" x="533.87" y="1777.3" font-size="27.6" textLength="407.10" lengthAdjust="spacing">DRC/PP_0012YU8.1/2024-09-20</text>
<text id="tip21" x="531.27" y="1816.3" font-size="27.6" textLength="407.43" lengthAdjust="spacing">DRC/PP_0012WPL.1/2024-09-10</text>
<text id="tip22" x="181.47" y="1855.2" font-size="27.6" textLength="401.22" lengthAdjust="spacing">DRC/PP_000ZSTN.1/2022-10-01</text>
</g>
</svg>
</body></html>
